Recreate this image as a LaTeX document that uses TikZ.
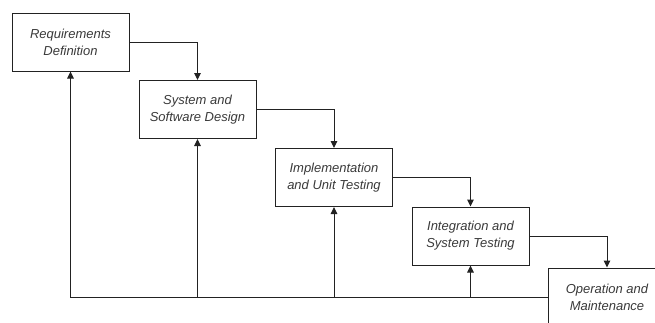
\documentclass[tikz,border=0pt]{standalone}
\usepackage{fontspec}
\setmainfont{Liberation Sans}
\usetikzlibrary{arrows.meta}
\definecolor{linec}{HTML}{222222}
\definecolor{textc}{HTML}{3A3A3A}
\begin{document}
\begin{tikzpicture}[x=1pt,y=-1pt,
  phase/.style={draw=linec, line width=1pt, fill=white, minimum width=117pt, minimum height=58pt,
    inner sep=0pt, align=center, text=textc, font=\fontsize{13pt}{17pt}\selectfont\itshape},
  arr/.style={draw=linec, line width=1pt, -{Triangle[length=7pt,width=6.5pt]}},
  ln/.style={draw=linec, line width=1pt}]
\useasboundingbox (0,0) rectangle (655,322);
\clip (0,0) rectangle (655,322);
\node[phase] (b1) at (70.5,42) {Requirements\\Definition};
\node[phase] (b2) at (197.5,109.5) {System and\\Software Design};
\node[phase] (b3) at (334,177.5) {Implementation\\and Unit Testing};
\node[phase] (b4) at (470.5,236) {Integration and\\System Testing};
\node[phase] (b5) at (607,297) {Operation and\\Maintenance};
\draw[arr] (b1.east) -| (b2.north);
\draw[arr] (b2.east) -| (b3.north);
\draw[arr] (b3.east) -| (b4.north);
\draw[arr] (b4.east) -| (b5.north);
\draw[arr] (b5.west) -| (b1.south);
\draw[arr] (b2.south |- b5.west) -- (b2.south);
\draw[arr] (b3.south |- b5.west) -- (b3.south);
\draw[arr] (b4.south |- b5.west) -- (b4.south);
\end{tikzpicture}
\end{document}
